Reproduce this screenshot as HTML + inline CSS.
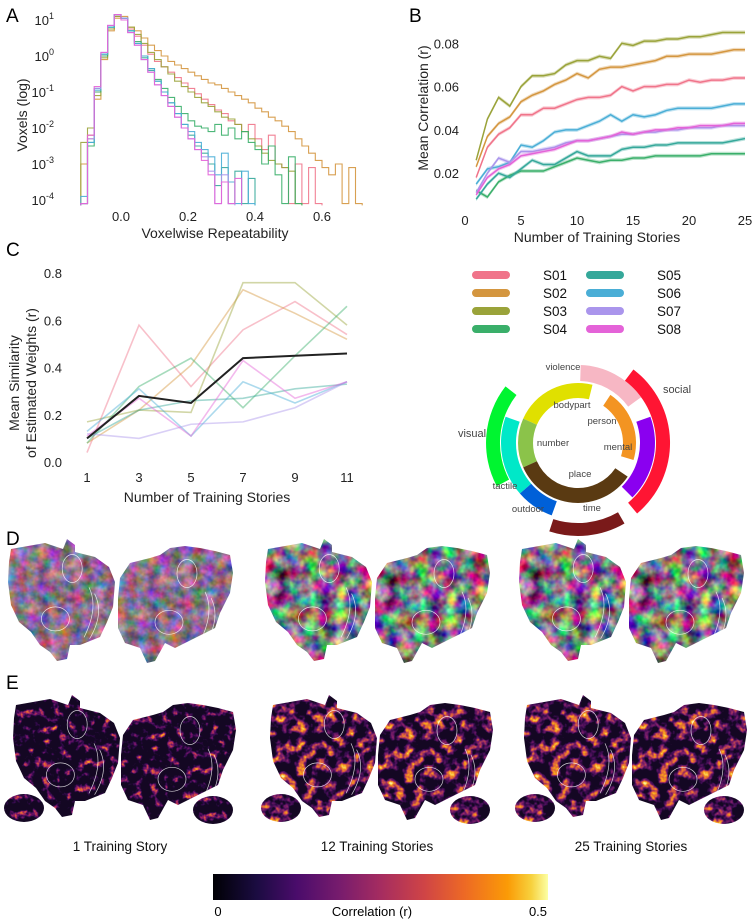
<!DOCTYPE html>
<html><head><meta charset="utf-8"><style>
html,body{margin:0;padding:0;background:#fff;}
svg{display:block;font-family:"Liberation Sans",sans-serif;}
filter{color-interpolation-filters:sRGB;}
</style></head><body>
<svg id="fig" width="754" height="920" viewBox="0 0 754 920">
<defs>
 <clipPath id="lh"><path d="M6,12 L40,6 L58,12 L62,2 L70,8 L70,15 L90,20 L104,30 L110,45 L108,70 L102,85 L95,100 L75,108 L65,108 L62,122 L52,124 L45,115 L35,108 L26,95 L14,85 L6,68 L3,45 L4,25 Z"/></clipPath>
 <clipPath id="rh"><path d="M5,35 L15,20 L35,15 L45,12 L55,5 L70,3 L85,5 L100,8 L115,12 L118,30 L115,50 L105,70 L100,85 L80,95 L60,105 L50,100 L40,118 L32,120 L25,105 L10,100 L3,85 L3,55 Z"/></clipPath>
 <clipPath id="sb"><ellipse cx="20" cy="14" rx="20" ry="14"/></clipPath>
 <filter id="fD1" x="0" y="0" width="1" height="1" color-interpolation-filters="sRGB"><feTurbulence type="fractalNoise" baseFrequency="0.09" numOctaves="3" seed="3"/><feColorMatrix values="1.1 0 0 0 0.0  0 0.7 0 0 0.08  0 0 1.0 0 0.05  0 0 0 0 1"/></filter>
 <filter id="fD2" x="0" y="0" width="1" height="1" color-interpolation-filters="sRGB"><feTurbulence type="fractalNoise" baseFrequency="0.07" numOctaves="3" seed="7"/><feColorMatrix values="1.8 0 0 0 -0.4  0 1.8 0 0 -0.45  0 0 1.0 0 0.0  0 0 0 0 1"/></filter>
 <filter id="fE1" x="0" y="0" width="1" height="1" color-interpolation-filters="sRGB"><feTurbulence type="fractalNoise" baseFrequency="0.12" numOctaves="3" seed="5"/><feColorMatrix values="2.5 0 0 0 -1.3  2.5 0 0 0 -1.3  2.5 0 0 0 -1.3  0 0 0 0 1"/><feComponentTransfer><feFuncR type="table" tableValues="0.08 0.2 0.45 0.8 0.98 0.99"/><feFuncG type="table" tableValues="0.03 0.04 0.08 0.25 0.6 0.99"/><feFuncB type="table" tableValues="0.14 0.3 0.42 0.3 0.1 0.65"/></feComponentTransfer></filter>
 <filter id="fE2" x="0" y="0" width="1" height="1" color-interpolation-filters="sRGB"><feTurbulence type="fractalNoise" baseFrequency="0.1" numOctaves="3" seed="9"/><feColorMatrix values="2.4 0 0 0 -1.05  2.4 0 0 0 -1.05  2.4 0 0 0 -1.05  0 0 0 0 1"/><feComponentTransfer><feFuncR type="table" tableValues="0.08 0.25 0.5 0.85 0.98 0.99"/><feFuncG type="table" tableValues="0.03 0.05 0.12 0.35 0.65 0.95"/><feFuncB type="table" tableValues="0.14 0.33 0.42 0.25 0.1 0.6"/></feComponentTransfer></filter>
 <linearGradient id="inferno" x1="0" x2="1" y1="0" y2="0">
  <stop offset="0" stop-color="#000004"/><stop offset="0.13" stop-color="#1b0c41"/><stop offset="0.25" stop-color="#4a0c6b"/><stop offset="0.38" stop-color="#781c6d"/><stop offset="0.5" stop-color="#a52c60"/><stop offset="0.63" stop-color="#cf4446"/><stop offset="0.75" stop-color="#ed6925"/><stop offset="0.88" stop-color="#fb9b06"/><stop offset="0.95" stop-color="#f7d13d"/><stop offset="1" stop-color="#fcffa4"/>
 </linearGradient>
</defs>
<g id="gA"></g>
<g id="gB"></g>
<g id="gC"></g>
<g id="gLeg"></g>
<g id="gW"></g>
<g id="gD"></g>
<g id="gE"></g>
<g id="gCB">
 <rect x="213" y="874" width="335" height="26" fill="url(#inferno)"/>
 <text x="218" y="916" font-size="13" text-anchor="middle">0</text>
 <text x="372" y="916" font-size="13" text-anchor="middle">Correlation (r)</text>
 <text x="538" y="916" font-size="13" text-anchor="middle">0.5</text>
</g>
</svg>
<script>
const subjects=["S01","S02","S03","S04","S05","S06","S07","S08"];
const subjColors=["#f0748a","#d4963f","#9aa33a","#3aaf6a","#35a89a","#4aaed6","#aa95ec","#e463d8"];
// Panel A: log10 voxel density per bin (bins start -0.12, width 0.02)
const histS01=[-4.1,-2.3,-1.0,0.0,0.75,1.1,1.05,0.75,0.55,0.3,0.05,-0.15,-0.3,-0.45,-0.6,-0.75,-0.9,-1.05,-1.2,-1.35,-1.5,-1.6,-1.8,-1.9,-2.1,-1.9,-2.3,-2.6,-2.2,-3.0,-3.1,-4.1,-3.0,-4.1,-3.1,-4.1];
const histS02=[-3.0,-2.2,-1.2,-0.1,0.7,1.05,1.1,0.8,0.7,0.5,0.3,0.15,0.0,-0.15,-0.25,-0.35,-0.45,-0.55,-0.65,-0.75,-0.8,-0.9,-1.0,-1.1,-1.2,-1.3,-1.45,-1.55,-1.7,-1.8,-1.95,-2.1,-2.3,-2.5,-2.7,-2.9,-3.1,-3.3,-3.0,-4.1,-3.1,-4.1];
const histS03=[-2.4,-2.0,-1.1,-0.05,0.75,1.1,1.05,0.8,0.6,0.35,0.1,-0.1,-0.3,-0.5,-0.7,-0.85,-1.0,-1.15,-1.3,-1.4,-1.55,-1.7,-1.75,-1.9,-2.1,-2.3,-2.5,-2.7,-2.9,-3.0,-3.1,-3.2,-4.1];
const histS04=[-4.1,-2.5,-1.0,0.0,0.8,1.15,1.05,0.7,0.4,0.0,-0.35,-0.65,-0.9,-1.15,-1.4,-1.6,-1.8,-1.95,-2.0,-2.1,-1.9,-2.2,-2.0,-2.3,-2.1,-2.4,-2.6,-3.0,-2.5,-3.3,-4.1,-2.8,-4.1];
const histS05=[-4.1,-2.4,-0.9,0.05,0.8,1.15,1.05,0.7,0.35,-0.05,-0.4,-0.7,-1.0,-1.3,-1.6,-1.9,-2.2,-2.5,-2.7,-3.0,-3.6,-3.1,-4.1,-3.2,-4.1,-3.4];
const histS06=[-3.9,-2.4,-0.95,0.05,0.8,1.15,1.05,0.7,0.35,0.0,-0.35,-0.7,-1.0,-1.3,-1.6,-1.9,-2.1,-2.4,-2.6,-2.8,-3.3,-2.7,-3.5,-4.1,-3.2,-4.1];
const histS07=[-4.1,-2.3,-0.9,0.1,0.85,1.15,1.05,0.65,0.3,-0.1,-0.45,-0.8,-1.1,-1.4,-1.7,-2.0,-2.3,-2.6,-2.8,-3.2,-4.1,-3.3,-4.1];
const histS08=[-4.1,-2.2,-0.85,0.1,0.85,1.15,1.0,0.65,0.3,-0.1,-0.45,-0.8,-1.1,-1.4,-1.7,-2.0,-2.3,-2.6,-2.9,-3.3,-4.1,-3.5,-4.1,-3.4];
const histA=[histS01,histS02,histS03,histS04,histS05,histS06,histS07,histS08];
const binStart=-0.12, binWidth=0.02;
const xTicksA=[0.0,0.2,0.4,0.6];
const yTicksA=[1,0,-1,-2,-3,-4];
// Panel B
const storiesB=[1,2,3,4,5,6,7,8,9,10,11,12,13,14,15,16,17,18,19,20,21,22,23,24,25];
const corrS01=[0.018,0.032,0.038,0.041,0.047,0.047,0.050,0.050,0.052,0.054,0.055,0.055,0.056,0.060,0.058,0.060,0.060,0.061,0.061,0.063,0.062,0.063,0.063,0.064,0.064];
const corrS02=[0.023,0.037,0.043,0.046,0.053,0.056,0.058,0.061,0.063,0.066,0.064,0.068,0.069,0.069,0.070,0.071,0.072,0.074,0.074,0.075,0.075,0.075,0.076,0.077,0.077];
const corrS03=[0.026,0.045,0.055,0.051,0.060,0.065,0.065,0.066,0.070,0.072,0.072,0.074,0.073,0.080,0.079,0.081,0.081,0.082,0.082,0.083,0.083,0.084,0.085,0.085,0.085];
const corrS04=[0.012,0.009,0.016,0.019,0.021,0.021,0.021,0.023,0.025,0.027,0.026,0.025,0.026,0.026,0.027,0.027,0.028,0.028,0.028,0.028,0.028,0.029,0.029,0.029,0.029];
const corrS05=[0.008,0.015,0.020,0.018,0.022,0.026,0.024,0.024,0.027,0.030,0.028,0.028,0.028,0.031,0.032,0.032,0.033,0.033,0.034,0.034,0.034,0.034,0.034,0.035,0.036];
const corrS06=[0.015,0.022,0.023,0.025,0.033,0.032,0.035,0.039,0.040,0.040,0.042,0.044,0.047,0.044,0.047,0.046,0.047,0.049,0.050,0.050,0.050,0.050,0.051,0.052,0.052];
const corrS07=[0.011,0.020,0.027,0.025,0.030,0.030,0.031,0.032,0.034,0.035,0.035,0.036,0.037,0.038,0.038,0.039,0.039,0.040,0.040,0.041,0.041,0.041,0.042,0.042,0.042];
const corrS08=[0.010,0.018,0.022,0.024,0.028,0.029,0.030,0.031,0.033,0.035,0.035,0.036,0.037,0.039,0.038,0.039,0.040,0.040,0.041,0.041,0.042,0.042,0.042,0.043,0.043];
const corrB=[corrS01,corrS02,corrS03,corrS04,corrS05,corrS06,corrS07,corrS08];
const xTicksB=[0,5,10,15,20,25];
const yTicksB=[0.02,0.04,0.06,0.08];
// Panel C
const storiesC=[1,3,5,7,9,11];
const simMean=[0.10,0.28,0.25,0.44,0.45,0.46];
const simS01=[0.04,0.58,0.32,0.56,0.68,0.54];
const simS02=[0.08,0.22,0.41,0.73,0.63,0.52];
const simS03=[0.17,0.22,0.21,0.76,0.76,0.58];
const simS04=[0.08,0.32,0.44,0.23,0.45,0.66];
const simS05=[0.10,0.22,0.26,0.27,0.31,0.33];
const simS06=[0.13,0.31,0.11,0.34,0.25,0.34];
const simS07=[0.12,0.10,0.16,0.17,0.23,0.34];
const simS08=[0.11,0.27,0.11,0.43,0.27,0.34];
const simC=[simS01,simS02,simS03,simS04,simS05,simS06,simS07,simS08];
const yTicksC=[0.0,0.2,0.4,0.6,0.8];

const NS="http://www.w3.org/2000/svg";
function mk(tag,attrs,parent){const e=document.createElementNS(NS,tag);for(const k in attrs)e.setAttribute(k,attrs[k]);parent.appendChild(e);return e;}
function txt(s,attrs,parent){const e=mk("text",attrs,parent);e.textContent=s;return e;}

// ---------- Panel A ----------
const gA=document.getElementById("gA");
const xA=v=>121+v*335;
const yA=l=>200-36*(Math.max(l,-4.15)+4);
let t=txt("A",{x:6,y:22,"font-size":19},gA);


xTicksA.forEach(v=>{const e=txt(v.toFixed(1),{x:xA(v),y:221,"font-size":13,"text-anchor":"middle",fill:"#222"},gA);

});
yTicksA.forEach(l=>{const e=mk("text",{x:54,y:yA(l)+5,"font-size":13,"text-anchor":"end",fill:"#222"},gA);


const a=mk("tspan",{},e);a.textContent="10";const b=mk("tspan",{dy:-6,"font-size":9},e);b.textContent=String(l);});
t=txt("Voxelwise Repeatability",{x:215,y:238,"font-size":14,"text-anchor":"middle",fill:"#222"},gA);


t=txt("Voxels (log)",{x:0,y:0,"font-size":14,"text-anchor":"middle",fill:"#222",transform:"translate(27,115) rotate(-90)"},gA);


histA.forEach((h,s)=>{
 let d="";
 h.forEach((l,i)=>{const x0=xA(binStart+i*binWidth),x1=xA(binStart+(i+1)*binWidth),y=yA(l);
  d+=(i===0?"M"+x0+","+yA(-4.15)+" L"+x0+","+y:" L"+x0+","+y)+" L"+x1+","+y;});
 d+=" L"+xA(binStart+h.length*binWidth)+","+yA(-4.15);
 const p=mk("path",{d:d,fill:"none",stroke:subjColors[s],"stroke-width":1.1,opacity:0.9},gA);
 
 
});

// ---------- Panel B ----------
const gB=document.getElementById("gB");
const xB=v=>465+v*11.2;
const yB=v=>216.5-v*2165;
t=txt("B",{x:409,y:22,"font-size":19},gB);


xTicksB.forEach(v=>{const e=txt(String(v),{x:xB(v),y:225,"font-size":13,"text-anchor":"middle",fill:"#222"},gB);

});
yTicksB.forEach(v=>{const e=txt(v.toFixed(2),{x:459,y:yB(v)+5,"font-size":13,"text-anchor":"end",fill:"#222"},gB);

});
t=txt("Number of Training Stories",{x:597,y:242,"font-size":14,"text-anchor":"middle",fill:"#222"},gB);


t=txt("Mean Correlation (r)",{x:0,y:0,"font-size":14,"text-anchor":"middle",fill:"#222",transform:"translate(428,108) rotate(-90)"},gB);


corrB.forEach((arr,s)=>{
 const up=arr.map((v,i)=>xB(storiesB[i])+","+yB(v+0.0009)).join(" L");
 const dn=arr.map((v,i)=>xB(storiesB[i])+","+yB(v-0.0009)).reverse().join(" L");
 const band=mk("path",{d:"M"+up+" L"+dn+" Z",fill:subjColors[s],opacity:0.35},gB);
 
 
 const line=mk("path",{d:"M"+arr.map((v,i)=>xB(storiesB[i])+","+yB(v)).join(" L"),fill:"none",stroke:subjColors[s],"stroke-width":1.5},gB);
 
 
});

// ---------- Panel C ----------
const gC=document.getElementById("gC");
const xC=v=>87+(v-1)*26;
const yC=v=>462-v*236;
t=txt("C",{x:6,y:256,"font-size":19},gC);


storiesC.forEach(v=>{const e=txt(String(v),{x:xC(v),y:482,"font-size":13,"text-anchor":"middle",fill:"#222"},gC);

});
yTicksC.forEach(v=>{const e=txt(v.toFixed(1),{x:62,y:yC(v)+5,"font-size":13,"text-anchor":"end",fill:"#222"},gC);

});
t=txt("Number of Training Stories",{x:207,y:502,"font-size":14,"text-anchor":"middle",fill:"#222"},gC);


t=txt("Mean Similarity",{x:0,y:0,"font-size":14,"text-anchor":"middle",fill:"#222",transform:"translate(19,383) rotate(-90)"},gC);


t=txt("of Estimated Weights (r)",{x:0,y:0,"font-size":14,"text-anchor":"middle",fill:"#222",transform:"translate(36,383) rotate(-90)"},gC);


simC.forEach((arr,s)=>{
 const l=mk("path",{d:"M"+arr.map((v,i)=>xC(storiesC[i])+","+yC(v)).join(" L"),fill:"none",stroke:subjColors[s],"stroke-width":1.6,opacity:0.45},gC);
 
 
});
t=mk("path",{d:"M"+simMean.map((v,i)=>xC(storiesC[i])+","+yC(v)).join(" L"),fill:"none",stroke:"#222","stroke-width":2},gC);



// ---------- Legend ----------
const gL=document.getElementById("gLeg");
subjects.forEach((s,i)=>{
 const col=Math.floor(i/4),row=i%4;
 const sx=472+col*114, y=275+row*18;
 const r=mk("rect",{x:sx,y:y-4,width:38,height:8,rx:4,fill:subjColors[i]},gL);
 
 
 const e=txt(s,{x:sx+71,y:y+5,"font-size":13.5,fill:"#111"},gL);
 
 
});

// ---------- Wheel ----------
const gW=document.getElementById("gW");
const cx=578, cy=443;
function arc(r0,r1,a0,a1){const p=(r,a)=>{const t=(a-90)*Math.PI/180;return (cx+r*Math.cos(t)).toFixed(1)+","+(cy+r*Math.sin(t)).toFixed(1);};
 const large=(a1-a0)>180?1:0;
 return "M"+p(r1,a0)+" A"+r1+","+r1+" 0 "+large+" 1 "+p(r1,a1)+" L"+p(r0,a1)+" A"+r0+","+r0+" 0 "+large+" 0 "+p(r0,a0)+" Z";}
const segs=[["bodypart",45,60,294,374,"#e0e000"],["number",45,60,246,294,"#8bc34a"],["place",45,60,124,246,"#5a3a12"],["person",45,58,34,107,"#f39422"],
["violence",62,78,2,54,"#f7b7c4"],["mental",62,77,70,135,"#8a00f0"],["tactile",62,77,229,290,"#00e8c8"],["outdoor",62,77,200,229,"#0060d8"],
["social",78,92,37,140,"#ff1533"],["visual",78,92,242,308,"#00f530"],["time",80,93,150,198,"#7a1a1a"]];
segs.forEach(s=>{const p=mk("path",{d:arc(s[1],s[2],s[3],s[4]),fill:s[5]},gW);
 
 });
const wl=[["violence",563,370],["social",677,393],["bodypart",572,408],["person",602,424],["visual",472,437],["number",553,446],["mental",618,450],["place",580,477],["tactile",505,489],["time",592,511],["outdoor",528,512]];
wl.forEach(l=>{const e=txt(l[0],{x:l[1],y:l[2],"font-size":l[0]==="social"||l[0]==="visual"?11:9.5,"text-anchor":"middle",fill:"#444"},gW);
 
 });

// ---------- Brains ----------
function hemi(parent,clip,x,y,w,h,filt,name){
 const g=mk("g",{transform:"translate("+x+","+y+")","clip-path":"url(#"+clip+")"},parent);
 
 
 mk("rect",{x:0,y:0,width:w,height:h,fill:"#888",filter:"url(#"+filt+")"},g);
 mk("ellipse",{cx:w*0.45,cy:h*0.65,rx:14,ry:12,fill:"none",stroke:"#fff","stroke-width":0.7,opacity:0.8},g);
 mk("ellipse",{cx:w*0.6,cy:h*0.25,rx:10,ry:14,fill:"none",stroke:"#fff","stroke-width":0.7,opacity:0.8},g);
 mk("path",{d:"M"+(w*0.75)+","+(h*0.4)+" q10,20 -5,50 M"+(w*0.8)+","+(h*0.45)+" q10,20 -5,45",fill:"none",stroke:"#fff","stroke-width":0.7,opacity:0.8},g);
 return g;}
const gD=document.getElementById("gD"), gE=document.getElementById("gE");
t=txt("D",{x:6,y:545,"font-size":19},gD);


t=txt("E",{x:6,y:689,"font-size":19},gE);


const pairOffsets=[0,257,511];
const captions=["1 Training Story","12 Training Stories","25 Training Stories"];
pairOffsets.forEach((ox,i)=>{
 const fd=i===0?"fD1":"fD2", fe=i===0?"fE1":"fE2";
 hemi(gD,"lh",5+ox,537,112,126,fd,"flatmap-weights-left-"+(i+1));
 hemi(gD,"rh",115+ox,543,120,122,fd,"flatmap-weights-right-"+(i+1));
 hemi(gE,"lh",10+ox,693,112,126,fe,"flatmap-corr-left-"+(i+1));
 hemi(gE,"rh",118+ox,700,120,122,fe,"flatmap-corr-right-"+(i+1));
 const s1=mk("g",{transform:"translate("+(4+ox)+",794)","clip-path":"url(#sb)"},gE);
 
 
 mk("rect",{x:0,y:0,width:40,height:28,fill:"#888",filter:"url(#"+fe+")"},s1);
 const s2=mk("g",{transform:"translate("+(193+ox)+",796)","clip-path":"url(#sb)"},gE);
 
 
 mk("rect",{x:0,y:0,width:40,height:28,fill:"#888",filter:"url(#"+fe+")"},s2);
 const c=txt(captions[i],{x:120+ox,y:851,"font-size":13.5,"text-anchor":"middle",fill:"#111"},gE);
 
 
});
</script>
</body></html>
